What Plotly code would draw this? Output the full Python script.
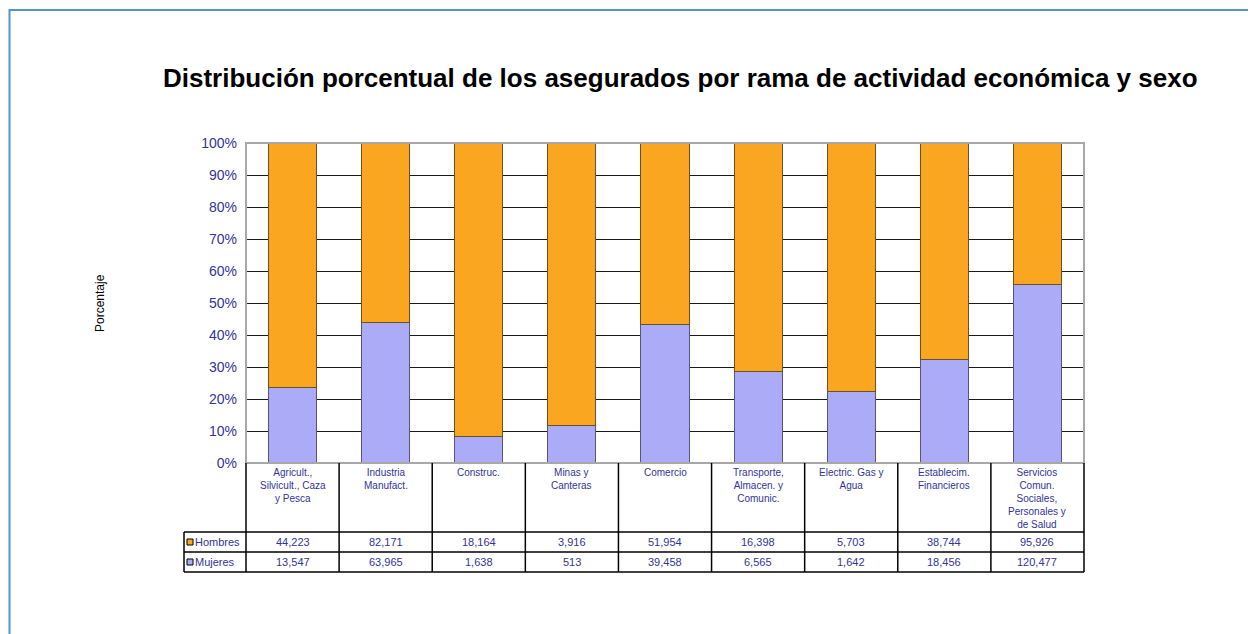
import plotly.graph_objects as go

# ramas de actividad
categorias = [
    "Agricult.,<br>Silvicult., Caza<br>y Pesca",
    "Industria<br>Manufact.",
    "Construc.",
    "Minas y<br>Canteras",
    "Comercio",
    "Transporte,<br>Almacen. y<br>Comunic.",
    "Electric. Gas y<br>Agua",
    "Establecim.<br>Financieros",
    "Servicios<br>Comun.<br>Sociales,<br>Personales y<br>de Salud",
]
hombres = [44223, 82171, 18164, 3916, 51954, 16398, 5703, 38744, 95926]
mujeres = [13547, 63965, 1638, 513, 39458, 6565, 1642, 18456, 120477]

# la página añade 8 px de margen: se compensa
OFF = 8
W, H = 1256 - OFF, 634 - OFF
# caja del área de trazado en píxeles de la ventana
L, R, T, B = 246, 1084, 143, 463
AZUL = "#333399"
NARANJA = "#FBA620"
LILA = "#ABABF7"


def px(x):
    return (x - L) / (R - L)


def py(y):
    return (B - y) / (B - T)


fig = go.Figure()

fig.add_trace(go.Bar(
    x=categorias, y=mujeres, name="Mujeres",
    marker=dict(color=LILA, line=dict(color="#55557A", width=1)),
))
fig.add_trace(go.Bar(
    x=categorias, y=hombres, name="Hombres",
    marker=dict(color=NARANJA, line=dict(color="#6E5020", width=1)),
))

n = len(categorias)
shapes = []
annotations = []

# marco azul exterior
shapes.append(dict(type="rect", xref="paper", yref="paper",
                   x0=px(9.5), x1=px(1262), y0=py(640), y1=py(10),
                   line=dict(color="#5593C8", width=2), layer="below"))
# borde del área de trazado
shapes.append(dict(type="rect", xref="paper", yref="paper",
                   x0=0, x1=1, y0=0, y1=1,
                   line=dict(color="#A8A8A8", width=2)))

# tabla de datos
fila1, fila2, fila3 = 532, 552, 572
for y in (fila1, fila2, fila3):
    shapes.append(dict(type="line", xref="paper", yref="paper",
                       x0=px(184), x1=1, y0=py(y), y1=py(y),
                       line=dict(color="black", width=1.5)))
shapes.append(dict(type="line", xref="paper", yref="paper",
                   x0=px(184), x1=px(184), y0=py(fila1), y1=py(fila3),
                   line=dict(color="black", width=1.5)))
for i in range(n + 1):
    shapes.append(dict(type="line", xref="paper", yref="paper",
                       x0=i / n, x1=i / n, y0=0, y1=py(fila3),
                       line=dict(color="black", width=1.5)))

for i, c in enumerate(categorias):
    annotations.append(dict(x=c, xref="x", y=py(465), yref="paper",
                            text=c, showarrow=False, yanchor="top",
                            font=dict(size=10, color=AZUL)))
    annotations.append(dict(x=c, xref="x", y=py(542), yref="paper",
                            text=f"{hombres[i]:,}", showarrow=False,
                            yanchor="middle",
                            font=dict(size=11, color=AZUL)))
    annotations.append(dict(x=c, xref="x", y=py(562), yref="paper",
                            text=f"{mujeres[i]:,}", showarrow=False,
                            yanchor="middle",
                            font=dict(size=11, color=AZUL)))

for nombre, y, color in (("Hombres", 542, NARANJA), ("Mujeres", 562, LILA)):
    shapes.append(dict(type="rect", xref="paper", yref="paper",
                       x0=px(187), x1=px(193), y0=py(y + 3), y1=py(y - 3),
                       fillcolor=color, line=dict(color="black", width=1)))
    annotations.append(dict(x=px(193), xref="paper", y=py(y), yref="paper",
                            text=nombre, showarrow=False, xanchor="left",
                            yanchor="middle",
                            font=dict(size=11, color=AZUL)))

# título y eje
annotations.append(dict(x=px(680), y=py(78), xref="paper", yref="paper",
                        xanchor="center", yanchor="middle",
                        text="<b>Distribución porcentual de los asegurados por rama de actividad económica y sexo</b>",
                        showarrow=False, font=dict(size=26, color="black")))
annotations.append(dict(x=px(100), y=0.5, xref="paper", yref="paper",
                        xanchor="center", yanchor="middle",
                        text="Porcentaje", textangle=-90, showarrow=False,
                        font=dict(size=12, color="black")))

fig.update_layout(
    width=W, height=H,
    barmode="stack", barnorm="percent", bargap=0.484,
    margin=dict(l=L - OFF, r=1256 - R, t=T - OFF, b=634 - B),
    paper_bgcolor="white", plot_bgcolor="white",
    font=dict(family="Liberation Sans, Arial, sans-serif"),
    showlegend=False,
    shapes=shapes, annotations=annotations,
    xaxis=dict(showticklabels=False, showgrid=False, range=[-0.5, n - 0.5]),
    yaxis=dict(range=[0, 100], dtick=10, ticksuffix="%",
               showgrid=True, gridcolor="#1A1A1A", gridwidth=1,
               zeroline=False, ticklabelstandoff=8,
               tickfont=dict(size=14, color=AZUL)),
)

fig.write_html("out.html")
